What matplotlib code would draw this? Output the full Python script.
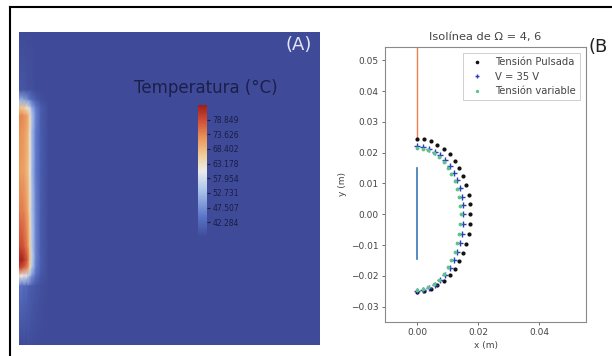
import numpy as np
import matplotlib
matplotlib.use("Agg")
import matplotlib.pyplot as plt
from matplotlib.colors import LinearSegmentedColormap
from matplotlib.lines import Line2D

# ---------------- data ----------------
# Left panel: temperature field (°C) on a coarse non-uniform grid (panel pixels)
field_x = [0, 5, 9, 11, 13, 17, 22, 30, 301]
field_y = [0, 58, 68, 76, 84, 100, 140, 180, 215, 228, 236, 244, 254, 313]
field_T = [
    [37, 37, 37, 37, 37, 37, 37, 37, 37],
    [39, 39, 38, 38, 38, 37, 37, 37, 37],
    [52, 50, 47, 45, 43, 40, 38, 37, 37],
    [68, 66, 62, 57, 51, 45, 40, 37, 37],
    [74, 73, 70, 64, 54, 46, 40, 37, 37],
    [73, 72, 69, 63, 53, 45, 40, 37, 37],
    [72, 71, 68, 62, 53, 45, 40, 37, 37],
    [75, 74, 70, 64, 54, 46, 40, 37, 37],
    [80, 78, 73, 66, 55, 46, 40, 37, 37],
    [84, 82, 76, 67, 56, 46, 40, 37, 37],
    [80, 77, 72, 64, 54, 45, 40, 37, 37],
    [62, 60, 57, 53, 48, 43, 39, 37, 37],
    [44, 43, 42, 41, 40, 39, 38, 37, 37],
    [37, 37, 37, 37, 37, 37, 37, 37, 37],
]
t_min, t_max = 37.06, 84.07
cbar_ticks = [78.849, 73.626, 68.402, 63.178, 57.954, 52.731, 47.507, 42.284]

# Right panel: isolines
pulsada_x = [0.0, 0.0023, 0.0045, 0.0067, 0.0088, 0.0107, 0.0124, 0.0139, 0.0152, 0.0162, 0.0169, 0.0173, 0.0175,
             0.0173, 0.0169, 0.0162, 0.0152, 0.0139, 0.0124, 0.0107, 0.0088, 0.0067, 0.0045, 0.0023, 0.0]
pulsada_y = [0.0243, 0.0243, 0.0237, 0.0226, 0.0212, 0.0194, 0.0173, 0.0149, 0.0123, 0.0094, 0.0063, 0.0032, 0.0,
             -0.0032, -0.0064, -0.0096, -0.0125, -0.0152, -0.0177, -0.0199, -0.0217, -0.0231, -0.0242, -0.0249, -0.0251]
v35_x = [0.0, 0.0020, 0.0039, 0.0058, 0.0076, 0.0092, 0.0107, 0.0120, 0.0131, 0.0140, 0.0146, 0.0150, 0.0151,
         0.0150, 0.0146, 0.0140, 0.0131, 0.0120, 0.0107, 0.0092, 0.0076, 0.0058, 0.0039, 0.0020, 0.0]
v35_y = [0.0220, 0.0218, 0.0212, 0.0203, 0.0191, 0.0175, 0.0156, 0.0134, 0.0110, 0.0084, 0.0057, 0.0029, 0.0,
         -0.0032, -0.0064, -0.0095, -0.0124, -0.0150, -0.0175, -0.0197, -0.0215, -0.0229, -0.0240, -0.0246, -0.0248]
var_x = [0.0, 0.0019, 0.0037, 0.0055, 0.0072, 0.0087, 0.0101, 0.0113, 0.0124, 0.0132, 0.0138, 0.0142, 0.0143,
         0.0142, 0.0138, 0.0132, 0.0124, 0.0113, 0.0101, 0.0087, 0.0072, 0.0055, 0.0037, 0.0019, 0.0]
var_y = [0.0214, 0.0212, 0.0207, 0.0198, 0.0185, 0.0170, 0.0151, 0.0130, 0.0107, 0.0082, 0.0055, 0.0028, 0.0,
         -0.0032, -0.0063, -0.0094, -0.0122, -0.0149, -0.0173, -0.0194, -0.0212, -0.0226, -0.0236, -0.0243, -0.0245]
electrode_top_x = [0.0, 0.0]
electrode_top_y = [0.0243, 0.06]
electrode_bot_x = [0.0, 0.0]
electrode_bot_y = [0.015, -0.0145]
x_ticks = [0.00, 0.02, 0.04]
y_ticks = [-0.03, -0.02, -0.01, 0.00, 0.01, 0.02, 0.03, 0.04, 0.05]

# ---------------- figure ----------------
W, H = 612, 356
fig = plt.figure(figsize=(W / 100, H / 100), dpi=100)
fig.patch.set_facecolor("white")

def fx(px):
    return px / W

def fy(py):
    return 1 - py / H

cmap = LinearSegmentedColormap.from_list("tcmap", [
    (0.00, (63/255, 75/255, 152/255)),
    (0.15, (90/255, 115/255, 200/255)),
    (0.35, (170/255, 195/255, 235/255)),
    (0.50, (236/255, 236/255, 236/255)),
    (0.62, (240/255, 205/255, 150/255)),
    (0.75, (235/255, 150/255, 90/255)),
    (0.88, (210/255, 80/255, 55/255)),
    (1.00, (160/255, 30/255, 25/255)),
])

# Left panel
axA = fig.add_axes([fx(19), fy(345), fx(320) - fx(19), fy(32) - fy(345)])
X, Y = np.meshgrid(field_x, field_y)
axA.pcolormesh(X, Y, np.array(field_T, dtype=float), shading="gouraud",
               cmap=cmap, vmin=t_min, vmax=t_max)
axA.set_xlim(0, 301)
axA.set_ylim(313, 0)
axA.axis("off")

# colorbar
cax = fig.add_axes([fx(198), fy(237), fx(207) - fx(198), fy(105) - fy(237)])
grad = np.linspace(t_min, t_max, 256).reshape(-1, 1)
cax.imshow(grad, aspect="auto", origin="lower", cmap=cmap,
           extent=[0, 1, t_min, t_max], vmin=t_min, vmax=t_max)
cax.set_xticks([])
cax.yaxis.tick_right()
cax.set_yticks(cbar_ticks)
cax.set_yticklabels([f"{t:.3f}" for t in cbar_ticks], fontsize=5.5, color="#1a1d45")
cax.tick_params(axis="y", length=2.5, width=0.8, color="#1a1d45", pad=1.5)
for s in cax.spines.values():
    s.set_visible(False)
cax.set_ylim(t_min, t_max)

fig.text(fx(206), fy(88), "Temperatura (°C)", fontsize=12, color="#1c1f4a",
         ha="center", va="center")
fig.text(fx(299), fy(45), "(A)", fontsize=13, color="#e4e7f5", ha="center", va="center")

# Right panel
axB = fig.add_axes([fx(385), fy(322), fx(586) - fx(385), fy(47) - fy(322)])
axB.plot(electrode_top_x, electrode_top_y, color="#f07f4f", lw=1.0, zorder=1)
axB.plot(electrode_bot_x, electrode_bot_y, color="#3a78b5", lw=1.2, zorder=1)
axB.plot(pulsada_x, pulsada_y, ls="none", marker=".", ms=4, color="#111111", label="Tensión Pulsada")
axB.plot(v35_x, v35_y, ls="none", marker="+", ms=4, mew=1.0, color="#2b3fb5", label="V = 35 V")
axB.plot(var_x, var_y, ls="none", marker=".", ms=3.5, color="#5cc48a", label="Tensión variable")
axB.set_xlim(-0.0105, 0.0554)
axB.set_ylim(-0.035, 0.0543)
axB.set_xticks(x_ticks)
axB.set_xticklabels([f"{v:.2f}" for v in x_ticks])
axB.set_yticks(y_ticks)
axB.set_yticklabels([f"{v:.2f}".replace("-", "\u2212") for v in y_ticks])
axB.tick_params(labelsize=6.5, length=2.5, width=0.6, colors="#555555", labelcolor="#444444", pad=2)
for s in axB.spines.values():
    s.set_color("#8a8a8a")
    s.set_linewidth(0.8)
axB.set_xlabel("x (m)", fontsize=6.5, color="#444444", labelpad=3)
axB.set_ylabel("y (m)", fontsize=6.5, color="#444444", labelpad=3)
axB.set_title("Isolínea de Ω = 4, 6", fontsize=8.2, color="#444444", pad=5)
leg = axB.legend(loc="upper right", fontsize=7.2, frameon=True, fancybox=False,
                 handlelength=2.0, borderpad=0.4, labelspacing=0.45, markerscale=0.8,
                 borderaxespad=0.6)
leg.get_frame().set_edgecolor("#bbbbbb")
leg.get_frame().set_linewidth(0.6)
for t in leg.get_texts():
    t.set_color("#444444")

fig.text(fx(589), fy(47), "(B", fontsize=13, color="#222222", ha="left", va="center")

# frame lines
fig.add_artist(Line2D([fx(10), fx(10)], [0, fy(7)], transform=fig.transFigure, color="black", lw=1.5))
fig.add_artist(Line2D([fx(10), 1], [fy(7), fy(7)], transform=fig.transFigure, color="black", lw=1.5))

fig.savefig("out.png", dpi=100)
